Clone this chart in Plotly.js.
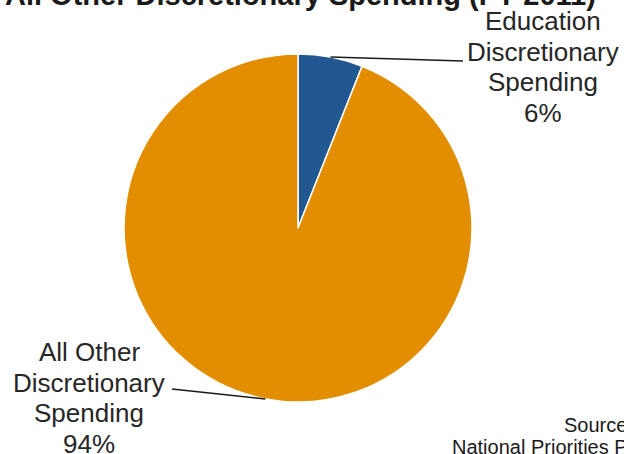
<!DOCTYPE html>
<html>
<head>
<meta charset="utf-8">
<script src="https://cdn.plot.ly/plotly-3.0.1.min.js"></script>
<style>html,body{margin:0;padding:0;background:#fff;}#chart{width:624px;height:454px;}</style>
</head>
<body>
<div id="chart"></div>
<script>
const categories = ["Education Discretionary Spending", "All Other Discretionary Spending"];
const labelLines = [["Education", "Discretionary", "Spending"], ["All Other", "Discretionary", "Spending"]];
const values = [6, 94];
const colors = ["#215891", "#e28e00"];
const titleText = "All Other Discretionary Spending (FY 2011)";
const sourceLines = ["Source:", "National Priorities Project"];

const W = 624, H = 454;
const cx = 298, cy = 228, R = 174;
const dom = {x: [(cx - R) / W, (cx + R) / W], y: [1 - (cy + R) / H, 1 - (cy - R) / H]};

const total = values.reduce((a, b) => a + b, 0);
let cum = 0;
const mids = values.map(v => { const m = (cum + v / 2) / total; cum += v; return m; });
function edgePoint(frac) {
  const t = frac * 2 * Math.PI;
  return [cx + R * Math.sin(t), cy - R * Math.cos(t)];
}
const toPaper = p => [p[0] / W, 1 - p[1] / H];

// label placement (px): text centre x, first line centre y, leader-line end
const labelPos = [{tx: 543, ty: 21, lx: 463, ly: 61}, {tx: 89, ty: 352, lx: 172, ly: 389}];
const lineGap = 30.7;
const font = {family: "Liberation Sans, Arial, sans-serif", size: 26, color: "#262626"};

const annotations = [];
const shapes = [];
categories.forEach((c, i) => {
  const pct = Math.round(values[i] / total * 100) + "%";
  const lp = labelPos[i];
  labelLines[i].concat([pct]).forEach((ln, k) => {
    const tp = toPaper([lp.tx, lp.ty + k * lineGap]);
    annotations.push({x: tp[0], y: tp[1], xref: "paper", yref: "paper", showarrow: false,
      text: ln, font: font, xanchor: "center", yanchor: "middle"});
  });
  const e = toPaper(edgePoint(mids[i]));
  const l = toPaper([lp.lx, lp.ly]);
  shapes.push({type: "line", xref: "paper", yref: "paper", x0: e[0], y0: e[1], x1: l[0], y1: l[1],
    line: {color: "#1a1a1a", width: 1.5}});
});

annotations.push({x: 300 / W, y: 1 + 5 / H, xref: "paper", yref: "paper", showarrow: false,
  text: "<b>" + titleText + "</b>", xanchor: "center", yanchor: "middle",
  font: {family: "Liberation Sans, Arial, sans-serif", size: 29, color: "#1a1a1a"}});
annotations.push({x: 562 / W, y: 1 - 425 / H, xref: "paper", yref: "paper", showarrow: false,
  text: sourceLines[0], xanchor: "left", yanchor: "middle",
  font: {family: "Liberation Sans, Arial, sans-serif", size: 20, color: "#1a1a1a"}});
annotations.push({x: 450 / W, y: 1 - 447 / H, xref: "paper", yref: "paper", showarrow: false,
  text: sourceLines[1], xanchor: "left", yanchor: "middle",
  font: {family: "Liberation Sans, Arial, sans-serif", size: 20, color: "#1a1a1a"}});

const data = [{
  type: "pie", labels: categories, values: values, sort: false, direction: "clockwise", rotation: 0,
  marker: {colors: colors, line: {color: "#ffffff", width: 1.5}},
  textinfo: "none", hoverinfo: "none", domain: dom, showlegend: false
}];
const layout = {width: W, height: H, margin: {l: 0, r: 0, t: 0, b: 0}, paper_bgcolor: "#ffffff",
  showlegend: false, annotations: annotations, shapes: shapes};
Plotly.newPlot("chart", data, layout, {displayModeBar: false, staticPlot: true});
</script>
</body>
</html>
